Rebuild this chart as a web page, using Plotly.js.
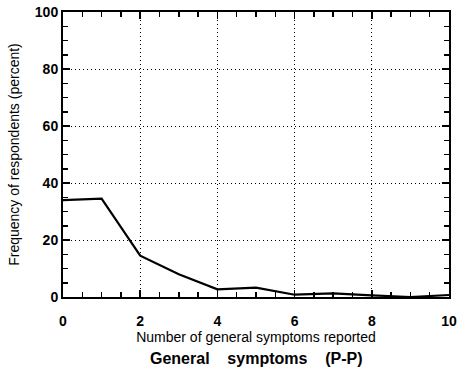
<!DOCTYPE html>
<html>
<head>
<meta charset="utf-8">
<script src="https://cdn.plot.ly/plotly-3.0.1.min.js"></script>
<style>html,body{margin:0;padding:0;background:#fff;}#chart{width:457px;height:385px;}</style>
</head>
<body>
<div id="chart"></div>
<script>
const symptomCounts = [0, 1, 2, 3, 4, 5, 6, 7, 8, 9, 10];
const frequencyPercent = [34, 34.5, 14.5, 8, 2.7, 3.3, 0.8, 1.3, 0.6, 0, 0.7];
const xTitle = 'Number of general symptoms reported';
const yTitle = 'Frequency of respondents (percent)';
const chartTitle = 'General&nbsp;&nbsp;&nbsp; symptoms&nbsp;&nbsp;&nbsp; (P-P)';

const font = 'Liberation Sans, Arial, Helvetica, sans-serif';

const trace = {
  x: symptomCounts,
  y: frequencyPercent,
  type: 'scatter',
  mode: 'lines',
  line: {color: '#000', width: 2.2},
  hoverinfo: 'skip'
};

// invisible companion trace so the tick-only overlay axis is drawn
const tickTrace = {
  x: symptomCounts,
  y: frequencyPercent,
  xaxis: 'x2',
  type: 'scatter',
  mode: 'lines',
  line: {color: 'rgba(0,0,0,0)', width: 0},
  hoverinfo: 'skip'
};

const common = {
  showline: true,
  linecolor: '#000',
  linewidth: 2,
  zeroline: false,
  tickfont: {family: font, size: 14, weight: 'bold', color: '#000'}
};

const layout = {
  width: 457,
  height: 385,
  margin: {l: 63, r: 8, t: 12, b: 88},
  paper_bgcolor: '#fff',
  plot_bgcolor: '#fff',
  showlegend: false,
  font: {family: font, color: '#000'},
  xaxis: Object.assign({}, common, {
    range: [0, 10],
    dtick: 2,
    ticks: '',
    showgrid: true,
    gridcolor: '#000',
    gridwidth: 1,
    griddash: '1px,3px',
    mirror: true,
    ticklabelstandoff: 10,
    title: {text: xTitle, font: {family: font, size: 14, color: '#000'}, standoff: 0}
  }),
  xaxis2: Object.assign({}, common, {
    overlaying: 'x',
    matches: 'x',
    anchor: 'y',
    side: 'bottom',
    range: [0, 10],
    dtick: 2,
    ticks: 'inside',
    ticklen: 7,
    tickwidth: 1.5,
    tickcolor: '#000',
    mirror: 'ticks',
    showgrid: false,
    showticklabels: false,
    minor: {dtick: 0.5, ticks: 'inside', ticklen: 5, tickwidth: 1.5, tickcolor: '#000', showgrid: false}
  }),
  yaxis: Object.assign({}, common, {
    range: [0, 100],
    dtick: 20,
    ticks: 'inside',
    ticklen: 7,
    tickwidth: 1.5,
    tickcolor: '#000',
    mirror: 'ticks',
    showgrid: true,
    gridcolor: '#000',
    gridwidth: 1,
    griddash: '1px,3px',
    minor: {dtick: 5, ticks: 'inside', ticklen: 5, tickwidth: 1.5, tickcolor: '#000', showgrid: false},
    title: {text: yTitle, font: {family: font, size: 14, color: '#000'}, standoff: 12}
  }),
  annotations: [{
    text: chartTitle,
    xref: 'paper', yref: 'paper',
    x: 0.5, y: -0.215,
    xanchor: 'center', yanchor: 'middle',
    showarrow: false,
    font: {family: font, size: 16, weight: 'bold', color: '#000'}
  }]
};

Plotly.newPlot('chart', [trace, tickTrace], layout, {displayModeBar: false, staticPlot: true});
</script>
</body>
</html>
